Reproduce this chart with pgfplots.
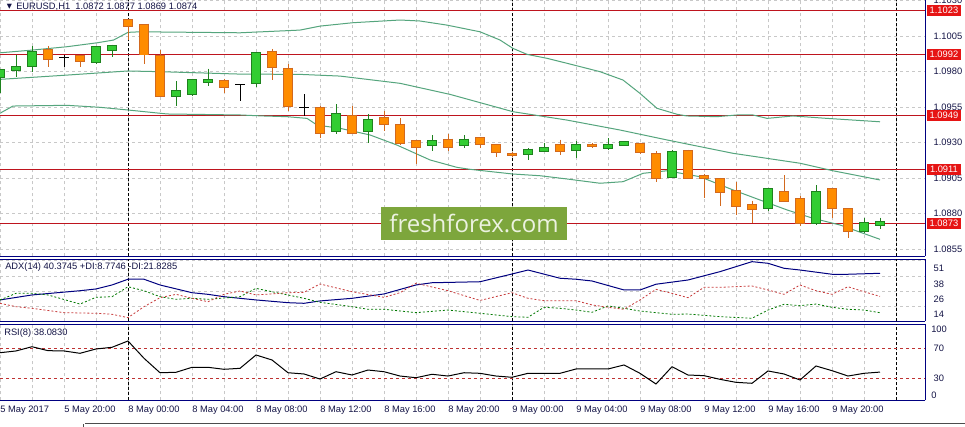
\documentclass[border=0pt]{standalone}
\usepackage{pgfplots}
\pgfplotsset{compat=1.18}
\usepackage{pgfplotstable}
\usepackage{fontspec}
\setmainfont{Liberation Sans}
\newfontfamily\wmfont{Open Sans}
\newfontfamily\symfont{DejaVu Sans}

\definecolor{mtnavy}{RGB}{0,0,128}
\definecolor{bullfill}{RGB}{50,205,50}
\definecolor{bullline}{RGB}{30,130,30}
\definecolor{bearfill}{RGB}{255,140,0}
\definecolor{bearline}{RGB}{210,105,30}
\definecolor{band}{RGB}{85,165,125}
\definecolor{lvl}{RGB}{190,20,30}
\definecolor{tagred}{RGB}{230,20,20}
\definecolor{gridc}{RGB}{200,200,200}
\definecolor{wmgreen}{RGB}{125,166,60}
\definecolor{wmtext}{RGB}{236,242,224}
\definecolor{txt}{RGB}{20,20,70}
\definecolor{pdi}{RGB}{0,120,0}
\definecolor{mdi}{RGB}{200,60,60}
\definecolor{rsilvl}{RGB}{190,50,50}

\pgfplotstableread{
k O H L C
0 1.0976 1.0982 1.0965 1.0981
1 1.0981 1.0992 1.0976 1.0983
2 1.0984 1.0998 1.0980 1.0994
6 1.0987 1.0998 1.0985 1.0997
7 1.0995 1.0999 1.0990 1.0998
11 1.0963 1.0973 1.0956 1.0966
12 1.0964 1.0975 1.0963 1.0974
13 1.09728 1.0982 1.0970 1.09740
16 1.0972 1.0994 1.0969 1.0993
21 1.0938 1.0957 1.0936 1.0950
23 1.0938 1.0950 1.0930 1.0946
27 1.0928 1.0935 1.0924 1.0931
29 1.0928 1.0935 1.0926 1.0932
33 1.0922 1.0926 1.0918 1.0925
34 1.0924 1.0930 1.0924 1.0926
36 1.0925 1.0931 1.0919 1.0928
38 1.0926 1.0933 1.0925 1.0928
39 1.09285 1.0931 1.0928 1.09302
42 1.0906 1.0925 1.0905 1.0923
48 1.0884 1.0898 1.0882 1.0897
51 1.0873 1.0900 1.0872 1.0895
54 1.0868 1.0877 1.0866 1.0873
55 1.0872 1.0877 1.0869 1.0874
}\bull

\pgfplotstableread{
k O H L C
3 1.0995 1.0998 1.0983 1.0989
5 1.09909 1.09909 1.0983 1.09876
8 1.1016 1.1017 1.1002 1.1012
9 1.1013 1.1013 1.0985 1.0992
10 1.0991 1.0995 1.0963 1.0963
14 1.0973 1.0975 1.0965 1.0969
17 1.0994 1.0996 1.0974 1.0983
18 1.0982 1.0985 1.0952 1.0956
20 1.0954 1.0956 1.0933 1.0937
22 1.0949 1.0956 1.0937 1.0937
24 1.0947 1.0952 1.0938 1.0943
25 1.0942 1.0947 1.0928 1.0930
26 1.0931 1.0932 1.0915 1.0927
28 1.0932 1.0936 1.0924 1.0927
30 1.0933 1.0933 1.0926 1.0929
31 1.0928 1.0929 1.0920 1.0923
32 1.09221 1.0923 1.0920 1.09210
35 1.0928 1.0932 1.0921 1.0924
37 1.09285 1.0930 1.0926 1.09273
40 1.0929 1.0930 1.0922 1.0923
41 1.0922 1.0924 1.0902 1.0905
43 1.0924 1.0925 1.0905 1.0905
44 1.09064 1.0908 1.0891 1.09048
45 1.0904 1.0905 1.0885 1.0895
46 1.0896 1.0902 1.0879 1.0885
47 1.0886 1.0889 1.0873 1.0883
49 1.0895 1.0907 1.0889 1.0889
50 1.0890 1.0892 1.0871 1.0873
52 1.0897 1.0897 1.0877 1.0884
53 1.0883 1.0883 1.0863 1.0868
}\bear

\pgfplotstableread{
k O H L C
4 1.0990 1.0992 1.0983 1.0990
15 1.0971 1.0971 1.0959 1.0971
19 1.0955 1.0964 1.0949 1.0955
}\doji

\pgfplotsset{
  mt/.style={scale only axis, width=693.75pt, xmin=0, xmax=57.8125,
    axis y line*=right, axis line style={mtnavy, line width=0.75pt},
    major tick length=0pt, minor tick length=0pt,
    grid style={gridc, dash pattern=on 2.25pt off 2.25pt, line width=0.5pt},
    xmajorgrids,
    extra x ticks={8,32,56}, extra x tick labels={},
    extra x tick style={major grid style={black, dash pattern=on 2.25pt off 1.5pt, line width=0.75pt}},
    tick label style={font=\fontsize{7}{8}\selectfont, text=txt},
    yticklabel style={xshift=3pt},
    scaled y ticks=false,
    /pgf/number format/assume math mode=true,
  },
}

\begin{document}
\begin{tikzpicture}
\useasboundingbox (0,0) rectangle (723.75pt,-320.25pt);
\fill[white] (0,0) rectangle (723.75pt,-320.25pt);

% ---------------- main price panel
\begin{axis}[mt, at={(0pt,0pt)}, anchor=north west, height=192.375pt,
  ymin=1.08497, ymax=1.10304,
  axis x line*=bottom,
  xtick={0,2,...,56}, xticklabels={},
  ytick={1.0855,1.0880,1.0905,1.0930,1.0955,1.0980,1.1005,1.1030},
  yticklabels={1.0855,1.0880,1.0905,1.0930,1.0955,1.0980,1.1005,1.1030},
  ymajorgrids]
  \foreach \lv in {1.1023,1.0992,1.0949,1.0911,1.0873}{
    \edef\tmp{\noexpand\addplot[lvl, line width=0.9pt, forget plot] coordinates {(0,\lv) (57.8125,\lv)};}\tmp
  }
  % Bollinger bands
  \addplot[band, line width=0.75pt] table {
k p
0 1.09932
2 1.09951
4.2 1.09975
6.1 1.10003
7.1 1.10022
8 1.10076
8.75 1.10080
15 1.10073
18.75 1.10092
20 1.10120
22.06 1.10144
25 1.10163
26.25 1.10156
27.94 1.10127
30 1.10080
31.25 1.10022
32.06 1.09963
32.94 1.09921
34.19 1.09893
35.44 1.09858
37.5 1.09799
38.94 1.09740
40 1.09646
41.06 1.09541
42.31 1.09499
42.94 1.09487
44.81 1.09482
46.06 1.09494
47.06 1.09494
47.94 1.09470
49.56 1.09487
51.69 1.09470
55 1.09446
};
  \addplot[band, line width=0.75pt] table {
k p
0 1.09745
2 1.09759
4.19 1.09775
8 1.09804
10 1.09799
15 1.09782
18.75 1.09780
21.25 1.09768
25 1.09717
28.13 1.09639
32.06 1.09517
35.44 1.09458
38.75 1.09388
41.69 1.09318
45.81 1.09224
50 1.09154
52.06 1.09101
55 1.09036
};
  \addplot[band, line width=0.75pt] table {
k p
0 1.09506
0.81 1.09557
4.19 1.09562
6.25 1.09548
8 1.09529
10.44 1.09501
15 1.09494
16.44 1.09487
17.94 1.09482
19.19 1.09470
19.81 1.09423
21.25 1.09400
23.13 1.09353
24.81 1.09282
26.88 1.09177
28.56 1.09125
29.38 1.09111
32.06 1.09078
33.75 1.09066
35.44 1.09043
37.5 1.09013
38.94 1.09024
40.19 1.09083
41.69 1.09101
43.75 1.09059
45.81 1.08966
47.5 1.08895
49.19 1.08825
50.81 1.08766
52.5 1.08719
55 1.08618
};
  % wicks
  \addplot[draw=none, error bars/.cd, y dir=minus, y explicit, error mark=none,
    error bar style={bullline, line width=0.75pt}]
    table[x=k, y=H, y error expr=\thisrow{H}-\thisrow{L}] {\bull};
  \addplot[draw=none, error bars/.cd, y dir=minus, y explicit, error mark=none,
    error bar style={bearline, line width=0.75pt}]
    table[x=k, y=H, y error expr=\thisrow{H}-\thisrow{L}] {\bear};
  % bodies: outline then fill
  \addplot[draw=none, error bars/.cd, y dir=minus, y explicit, error mark=none,
    error bar style={bullline, line width=7.5pt}]
    table[x=k, y expr=\thisrow{C}+0.00007, y error expr=\thisrow{C}-\thisrow{O}+0.00014] {\bull};
  \addplot[draw=none, error bars/.cd, y dir=minus, y explicit, error mark=none,
    error bar style={bullfill, line width=6pt}]
    table[x=k, y=C, y error expr=\thisrow{C}-\thisrow{O}] {\bull};
  \addplot[draw=none, error bars/.cd, y dir=minus, y explicit, error mark=none,
    error bar style={bearline, line width=7.5pt}]
    table[x=k, y expr=\thisrow{O}+0.00007, y error expr=\thisrow{O}-\thisrow{C}+0.00014] {\bear};
  \addplot[draw=none, error bars/.cd, y dir=minus, y explicit, error mark=none,
    error bar style={bearfill, line width=6pt}]
    table[x=k, y=O, y error expr=\thisrow{O}-\thisrow{C}] {\bear};
  % doji
  \addplot[draw=none, error bars/.cd, x dir=both, x fixed=0.3125, y dir=both, y explicit,
    error mark=none, error bar style={black, line width=0.75pt}]
    table[x=k, y=O, y error plus expr=\thisrow{H}-\thisrow{O}, y error minus expr=\thisrow{O}-\thisrow{L}] {\doji};
  \coordinate (t1) at (axis cs:57.8125,1.1023);
  \coordinate (t2) at (axis cs:57.8125,1.0992);
  \coordinate (t3) at (axis cs:57.8125,1.0949);
  \coordinate (t4) at (axis cs:57.8125,1.0911);
  \coordinate (t5) at (axis cs:57.8125,1.0873);
\end{axis}

% ---------------- ADX panel
\begin{axis}[mt, at={(0pt,-194.625pt)}, anchor=north west, height=46.5pt,
  ymin=1.71, ymax=51.44,
  axis x line*=box,
  xtick={0,2,...,56}, xticklabels={},
  ytick={14,26,38,51}, yticklabels={14,26,38,51},
  yticklabel style={anchor=north west},
  ymajorgrids]
  \addplot[mtnavy, line width=0.75pt] table {
k v
0 19.0
2 23.0
5 26.4
6 27.8
7 31.0
8 35.6
9 35.6
10 31.0
12 24.8
13 23.5
14 21.6
16 19.0
18 16.8
19 16.3
20 18.2
22 20.3
24 23.8
26 31.0
27 32.8
30 33.6
32 39.8
33 43.0
35 36.4
36 35.6
37 34.2
39 27.0
40 27.0
41 31.6
43 35.0
45 41.7
47 49.7
48 48.4
49 44.4
50 43.0
52 39.6
53 39.6
55 40.37
};
  \addplot[pdi, line width=0.6pt, dash pattern=on 1.5pt off 1.5pt] table {
k v
0 19.0
1 24.3
2 24.3
3 23.0
5 15.7
6 21.1
7 21.6
8 29.6
9 26.4
10 21.6
11 19.5
12 20.3
13 19.5
15 21.6
16 28.3
17 25.6
19 20.3
20 17.1
22 13.6
23 11.5
24 11.5
26 8.8
28 10.9
30 8.3
32 5.6
33 5.1
34 13.1
35 12.3
36 10.9
37 9.1
38 14.2
39 12.3
40 10.1
42 7.5
43 7.7
45 5.6
47 4.3
48 10.9
49 15.5
50 14.4
51 15.7
52 13.1
53 11.5
54 10.9
55 8.77
};
  \addplot[mdi, line width=0.6pt, dash pattern=on 1.5pt off 1.5pt] table {
k v
0 16.3
1 13.6
2 12.3
4 8.8
6 8.3
7 7.5
8 4.8
9 13.6
10 20.8
11 23.5
12 20.3
13 17.6
14 23.5
15 26.2
16 23.0
18 24.8
19 25.1
20 31.8
22 25.6
24 21.1
25 24.8
26 32.4
28 26.4
30 18.6
32 24.8
33 20.3
34 18.4
35 18.4
36 18.4
37 15.0
38 13.1
39 11.5
40 19.0
41 27.5
42 24.3
43 20.8
44 29.1
45 29.1
47 30.2
48 27.0
49 23.5
50 31.0
51 26.4
52 23.5
53 29.6
54 25.6
55 21.83
};
\end{axis}

% ---------------- RSI panel
\begin{axis}[mt, at={(0pt,-243.375pt)}, anchor=north west, height=57pt,
  ymin=-0.68, ymax=103.0,
  axis x line*=box,
  xtick={0,4,...,52},
  xticklabels={5 May 2017,5 May 20:00,8 May 00:00,8 May 04:00,8 May 08:00,8 May 12:00,8 May 16:00,8 May 20:00,9 May 00:00,9 May 04:00,9 May 08:00,9 May 12:00,9 May 16:00,9 May 20:00},
  xticklabel style={anchor=north west, inner xsep=0pt, inner ysep=1pt, yshift=-3pt},
  minor xtick={2,6,...,54}, xminorgrids,
  ytick={30,70}, yticklabels={30,70}]
  \addplot[rsilvl, line width=0.6pt, dash pattern=on 2.25pt off 2.25pt, forget plot] coordinates {(0,70) (57.8125,70)};
  \addplot[rsilvl, line width=0.6pt, dash pattern=on 2.25pt off 2.25pt, forget plot] coordinates {(0,30) (57.8125,30)};
  \addplot[black, line width=0.75pt] table {
k v
0 64.5
1 66.9
2 72.7
3 67.3
4 66.9
5 63.7
6 69.6
7 71.9
8 80.5
9 56.9
10 37.2
11 37.8
12 44.6
13 44.6
14 41.9
15 43.2
16 61.4
17 54.6
18 37.2
19 35.5
20 28.6
21 38.6
22 34.1
23 40.9
24 38.6
25 32.7
26 30.4
27 35.1
28 32.7
29 37.2
30 36.4
31 32.7
32 31.0
33 36.4
34 36.4
35 36.4
36 42.3
37 42.3
38 42.3
39 47.8
40 36.4
41 21.8
42 45.4
43 34.1
44 33.2
45 28.2
46 24.1
47 22.8
48 39.6
49 35.5
50 27.3
51 46.4
52 40.0
53 32.7
54 36.4
55 38.08
};
  \coordinate (r100) at (rel axis cs:1,1);
  \coordinate (r0) at (rel axis cs:1,0);
\end{axis}

% ---------------- annotations
\tikzset{tag/.style={fill=tagred, text=white, anchor=west, inner xsep=1.5pt, inner ysep=0.5pt,
  minimum height=8pt, minimum width=26pt, font=\fontsize{7}{8}\selectfont}}
\node[tag] at ([xshift=1pt]t1) {1.1023};
\node[tag] at ([xshift=1pt]t2) {1.0992};
\node[tag] at ([xshift=1pt]t3) {1.0949};
\node[tag] at ([xshift=1pt]t4) {1.0911};
\node[tag] at ([xshift=1pt]t5) {1.0873};

\node[anchor=north west, inner sep=1pt, text=txt, font=\fontsize{7}{8}\selectfont] at ([xshift=3.5pt]r100) {100};
\node[anchor=south west, inner sep=1pt, text=txt, font=\fontsize{7}{8}\selectfont] at ([xshift=3.5pt]r0) {0};

\node[inner sep=0pt, text=txt, font=\symfont\fontsize{5}{6}\selectfont] at (7.1pt,-5.25pt) {▼};
\node[anchor=west, inner sep=0pt, text=txt, font=\fontsize{7}{8}\selectfont] at (12pt,-5pt) {EURUSD,H1\ \ 1.0872 1.0877 1.0869 1.0874};
\node[anchor=west, inner sep=0pt, text=txt, font=\fontsize{7}{8}\selectfont] at (3.75pt,-200.5pt) {ADX(14) 40.3745 +DI:8.7746 -DI:21.8285};
\node[anchor=west, inner sep=0pt, text=txt, font=\fontsize{7}{8}\selectfont] at (3pt,-250pt) {RSI(8) 38.0830};

\node[fill=wmgreen, minimum width=139.5pt, minimum height=24.75pt, inner sep=0pt, text=wmtext,
  font=\wmfont\fontsize{18}{20}\selectfont] at (355.5pt,-167.6pt) {freshforex.com};

\draw[black!70, line width=0.75pt] (63.75pt,-318pt) -- (723.75pt,-318pt);
\draw[black!70, line width=0.75pt] (62.5pt,-320.25pt) -- (62.5pt,-318pt);
\end{tikzpicture}
\end{document}
